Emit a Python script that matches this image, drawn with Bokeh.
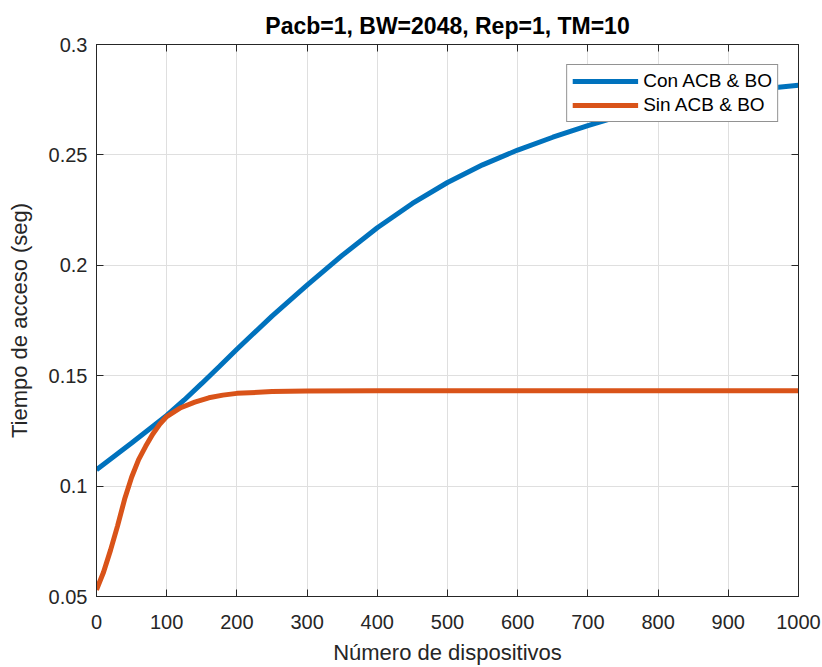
from bokeh.plotting import figure
from bokeh.models import (Range1d, FixedTicker, LinearAxis, Legend, LegendItem,
                          CustomJSTickFormatter)
from bokeh.embed import file_html
from bokeh.resources import INLINE

# ---- data ----
blue_x = [0, 50, 100, 125, 150, 175, 200, 250, 300, 350, 400, 450, 500,
          550, 600, 650, 700, 750, 800, 850, 900, 950, 1000]
blue_y = [0.1074, 0.1195, 0.1320, 0.1390, 0.1465, 0.1542, 0.1620, 0.1770,
          0.1910, 0.2045, 0.2170, 0.2280, 0.2375, 0.2455, 0.2522, 0.2580,
          0.2633, 0.2680, 0.2720, 0.2752, 0.2780, 0.2800, 0.2815]

orange_x = [0, 10, 20, 30, 40, 50, 60, 70, 80, 90, 100, 120, 140, 160, 180,
            200, 250, 300, 400, 500, 600, 700, 800, 900, 1000]
orange_y = [0.053, 0.061, 0.071, 0.082, 0.094, 0.104, 0.112, 0.118, 0.1235,
            0.128, 0.1315, 0.1355, 0.1380, 0.1400, 0.1412, 0.1420, 0.1428,
            0.1431, 0.1432, 0.1432, 0.1432, 0.1432, 0.1432, 0.1432, 0.1432]

series_names = ["Con ACB & BO", "Sin ACB & BO"]
x_ticks = [0, 100, 200, 300, 400, 500, 600, 700, 800, 900, 1000]
y_ticks = [0.05, 0.1, 0.15, 0.2, 0.25, 0.3]
y_tick_labels = ["0.05", "0.1", "0.15", "0.2", "0.25", "0.3"]
title_text = "Pacb=1, BW=2048, Rep=1, TM=10"
x_label = "Número de dispositivos"
y_label = "Tiempo de acceso (seg)"

FONT = "Liberation Sans"
TXT = "#262626"
BLUE = "#0072BD"
ORANGE = "#D95319"

p = figure(width=822, height=667, output_backend="svg", toolbar_location=None,
           x_range=Range1d(0, 1000), y_range=Range1d(0.05, 0.3),
           min_border_left=96, min_border_right=24, min_border_top=44,
           min_border_bottom=70, x_axis_label=x_label, y_axis_label=y_label)

p.background_fill_color = "white"
p.border_fill_color = "white"
p.outline_line_color = TXT
p.outline_line_width = 1

p.title.text = title_text
p.title.text_font = FONT
p.title.text_font_size = "23px"
p.title.text_font_style = "bold"
p.title.text_color = "#000000"
p.title.align = "center"
p.title.standoff = 12

for ax in (p.xaxis[0], p.yaxis[0]):
    ax.major_label_text_font = FONT
    ax.major_label_text_font_size = "20px"
    ax.major_label_text_color = TXT
    ax.axis_label_text_font = FONT
    ax.axis_label_text_font_size = "22px"
    ax.axis_label_text_font_style = "normal"
    ax.axis_label_text_color = TXT
    ax.axis_line_color = TXT
    ax.major_tick_line_color = TXT
    ax.major_tick_in = 7
    ax.major_tick_out = 0
    ax.minor_tick_line_color = None
    ax.major_label_standoff = 9

p.xaxis[0].ticker = FixedTicker(ticks=x_ticks)
p.yaxis[0].ticker = FixedTicker(ticks=y_ticks)
p.yaxis[0].major_label_overrides = {t: s for t, s in zip(y_ticks, y_tick_labels)}
p.xaxis[0].major_label_standoff = 18
p.xaxis[0].axis_label_standoff = 8
p.yaxis[0].axis_label_standoff = 14

# ticks on the top and right edges (no labels)
blank = CustomJSTickFormatter(code="return '';")
top = LinearAxis(ticker=FixedTicker(ticks=x_ticks), formatter=blank)
right = LinearAxis(ticker=FixedTicker(ticks=y_ticks), formatter=blank)
for ax in (top, right):
    ax.axis_line_color = TXT
    ax.major_tick_line_color = TXT
    ax.major_tick_in = 7
    ax.major_tick_out = 0
    ax.minor_tick_line_color = None
    ax.major_label_standoff = 0
    ax.axis_label_standoff = 0
    ax.major_label_text_font_size = "0px"
p.add_layout(top, "above")
p.add_layout(right, "right")

p.xgrid.ticker = FixedTicker(ticks=x_ticks)
p.ygrid.ticker = FixedTicker(ticks=y_ticks)
p.grid.grid_line_color = "#dfdfdf"
p.grid.grid_line_width = 1

r1 = p.line(blue_x, blue_y, line_color=BLUE, line_width=5)
r2 = p.line(orange_x, orange_y, line_color=ORANGE, line_width=5)

legend = Legend(items=[LegendItem(label=series_names[0], renderers=[r1]),
                       LegendItem(label=series_names[1], renderers=[r2])],
                location="top_right")
legend.margin = 20
legend.padding = 5
legend.spacing = 2
legend.glyph_width = 66
legend.glyph_height = 22
legend.label_height = 22
legend.label_standoff = 5
legend.label_text_font = FONT
legend.label_text_font_size = "19px"
legend.label_text_color = "#000000"
legend.border_line_color = TXT
legend.border_line_width = 1
legend.background_fill_color = "white"
legend.background_fill_alpha = 1
p.add_layout(legend, "center")

open("out.html", "w").write(file_html(p, INLINE))
